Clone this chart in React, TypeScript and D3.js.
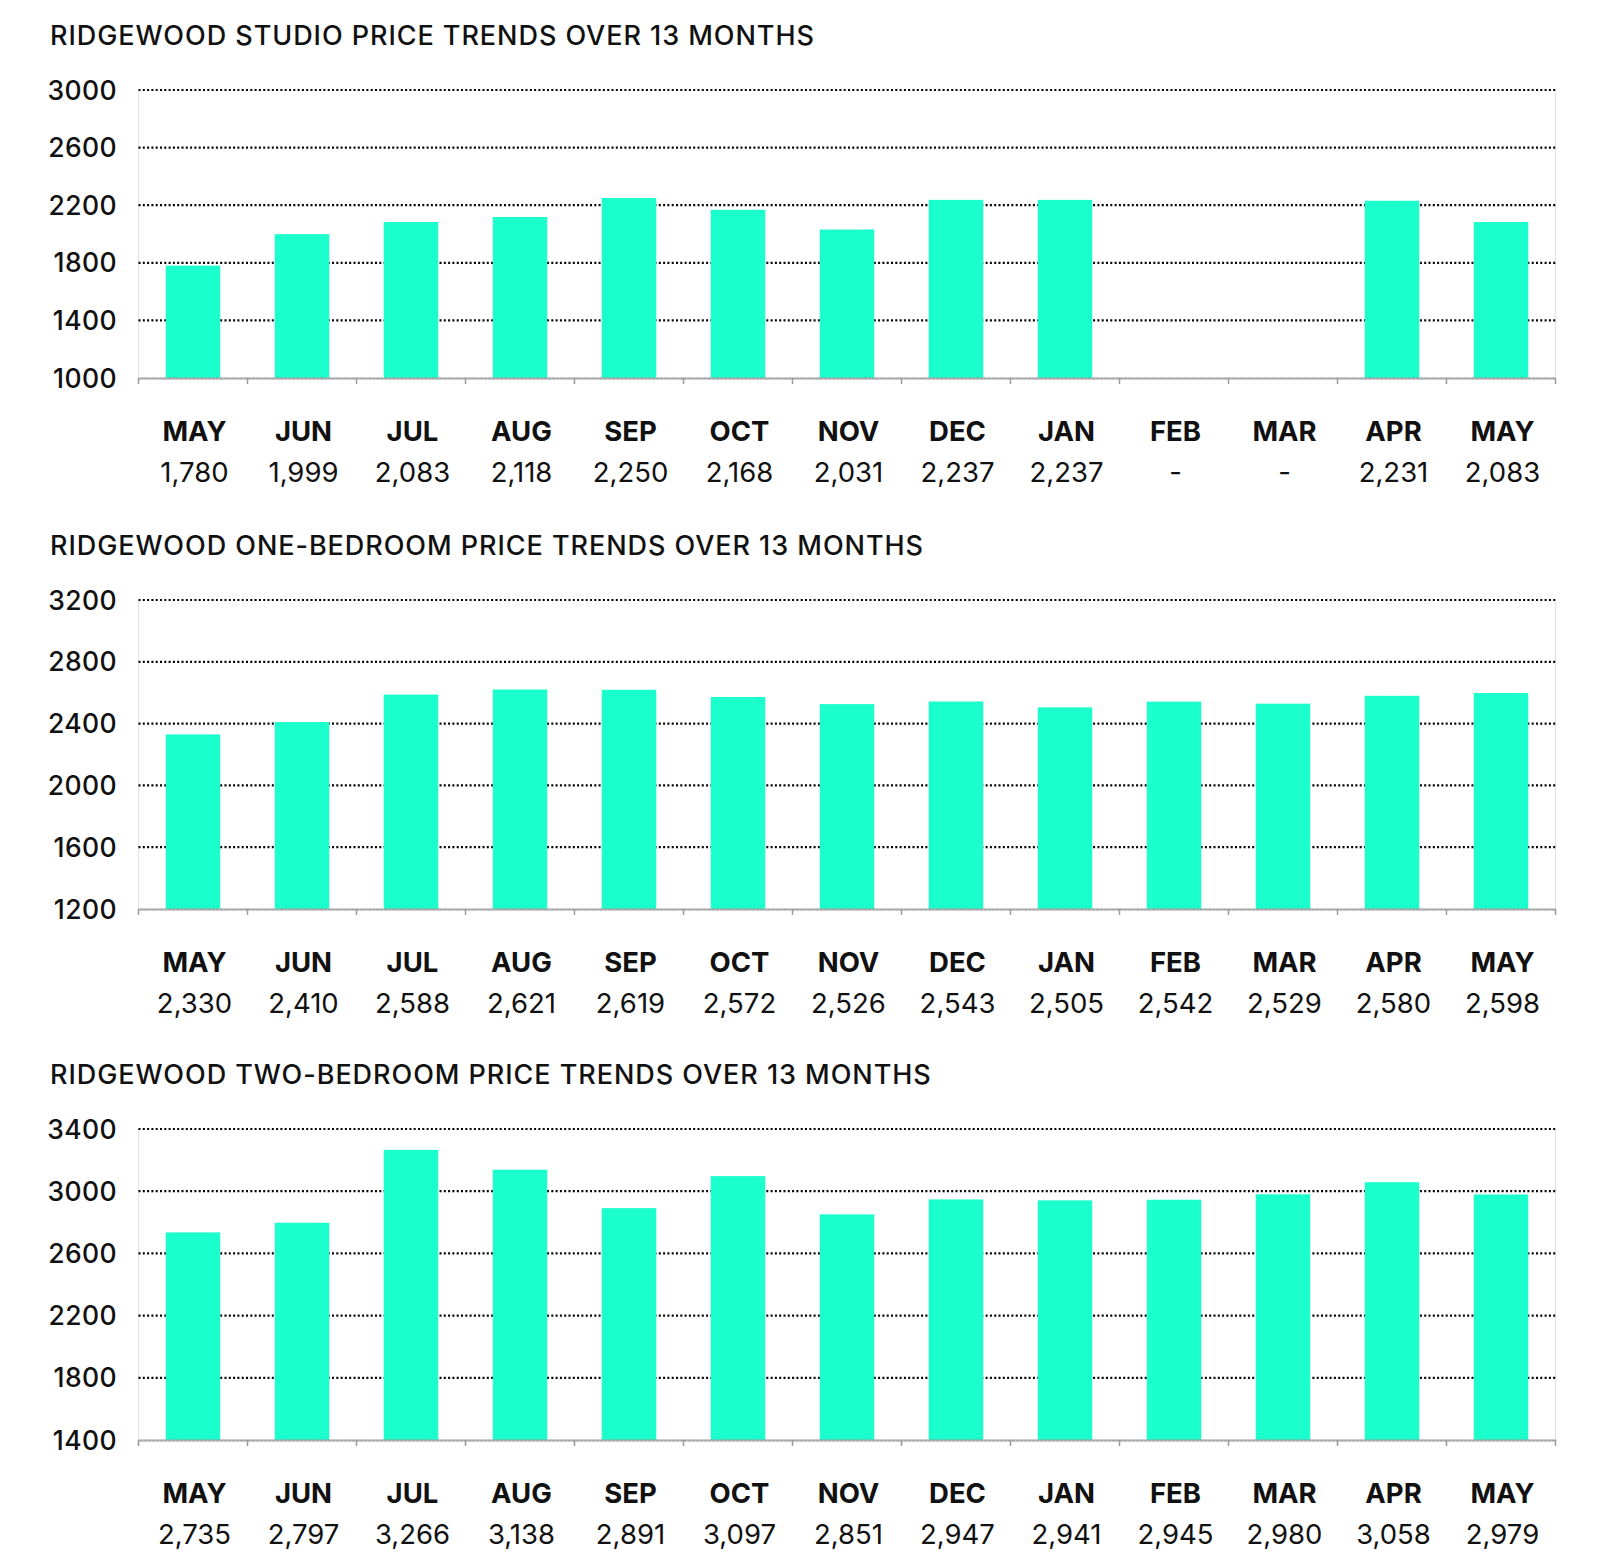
import React from "react";
import * as d3 from "d3";

const months = ["MAY", "JUN", "JUL", "AUG", "SEP", "OCT", "NOV", "DEC", "JAN", "FEB", "MAR", "APR", "MAY"];
const studioValues: (number | null)[] = [1780, 1999, 2083, 2118, 2250, 2168, 2031, 2237, 2237, null, null, 2231, 2083];
const oneBedValues: (number | null)[] = [2330, 2410, 2588, 2621, 2619, 2572, 2526, 2543, 2505, 2542, 2529, 2580, 2598];
const twoBedValues: (number | null)[] = [2735, 2797, 3266, 3138, 2891, 3097, 2851, 2947, 2941, 2945, 2980, 3058, 2979];

const studioTicks = [1000, 1400, 1800, 2200, 2600, 3000];
const oneBedTicks = [1200, 1600, 2000, 2400, 2800, 3200];
const twoBedTicks = [1400, 1800, 2200, 2600, 3000, 3400];

const titles = [
  "RIDGEWOOD STUDIO PRICE TRENDS OVER 13 MONTHS",
  "RIDGEWOOD ONE-BEDROOM PRICE TRENDS OVER 13 MONTHS",
  "RIDGEWOOD TWO-BEDROOM PRICE TRENDS OVER 13 MONTHS",
];

const BAR = "#1affcc";
const FONT = "Inter, 'Noto Sans', Arial, sans-serif";
const X0 = 138.5;
const X1 = 1555.5;

type PanelProps = {
  title: string;
  values: (number | null)[];
  ticks: number[];
  top: number; // title baseline
  plotTop: number;
  plotBottom: number;
};

const fmt = d3.format(",");

function Panel({ title, values, ticks, top, plotTop, plotBottom }: PanelProps) {
  const x = d3.scaleBand<number>().domain(d3.range(months.length)).range([X0, X1]).paddingInner(0.5).paddingOuter(0.25);
  const band = d3.scaleBand<number>().domain(d3.range(months.length)).range([X0, X1]);
  const y = d3.scaleLinear().domain([ticks[0], ticks[ticks.length - 1]]).range([plotBottom, plotTop]);
  const monthY = plotBottom + 63;
  const valueY = plotBottom + 104;
  return (
    <g>
      <text x={50} y={top} fontFamily={FONT} fontSize={27} fontWeight={500} letterSpacing={0.95} fill="#111">
        {title}
      </text>
      <line x1={X0} x2={X0} y1={y(ticks[ticks.length - 1])} y2={plotBottom} stroke="#e2e2e2" strokeWidth={1} />
      <line x1={X1} x2={X1} y1={y(ticks[ticks.length - 1])} y2={plotBottom} stroke="#e2e2e2" strokeWidth={1} />
      {ticks.slice(1).map((t) => (
        <line key={t} x1={X0} x2={X1} y1={y(t)} y2={y(t)} stroke="#000" strokeWidth={2.2} strokeDasharray="2,2.3" />
      ))}
      {ticks.map((t) => (
        <text key={"l" + t} x={117} y={y(t)} dy="0.36em" textAnchor="end" fontFamily={FONT} fontSize={26.5} fontWeight={500} letterSpacing={0.4} fill="#111">
          {t}
        </text>
      ))}
      {values.map((v, i) =>
        v == null ? null : (
          <rect key={i} x={x(i)} y={y(v)} width={x.bandwidth()} height={plotBottom - y(v)} fill={BAR} />
        )
      )}
      <line x1={X0} x2={X1} y1={plotBottom + 0.5} y2={plotBottom + 0.5} stroke="#9a9a9a" strokeWidth={2} />
      <line x1={X0} x2={X1} y1={plotBottom + 0.5} y2={plotBottom + 0.5} stroke="#bdbdbd" strokeWidth={1} strokeDasharray="2,2" />
      {d3.range(months.length + 1).map((i) => {
        const xx = i === months.length ? X1 : (band(i) as number);
        return <line key={"t" + i} x1={xx} x2={xx} y1={plotBottom} y2={plotBottom + 6} stroke="#9a9a9a" strokeWidth={1.5} />;
      })}
      {months.map((m, i) => {
        const cx = (band(i) as number) + band.bandwidth() / 2 + 1.5;
        return (
          <g key={"m" + i}>
            <text x={cx} y={monthY} textAnchor="middle" fontFamily={FONT} fontSize={27.5} fontWeight={700} fill="#111">
              {m}
            </text>
            <text x={cx} y={valueY} textAnchor="middle" fontFamily={FONT} fontSize={27.5} fontWeight={400} fill="#111">
              {values[i] == null ? "-" : fmt(values[i] as number)}
            </text>
          </g>
        );
      })}
    </g>
  );
}

export default function App() {
  return (
    <svg width={1600} height={1566} style={{ position: "absolute", left: 0, top: 0, background: "#fff" }}>
      <rect width={1600} height={1566} fill="#fff" />
      <Panel title={titles[0]} values={studioValues} ticks={studioTicks} top={45} plotTop={90} plotBottom={378} />
      <Panel title={titles[1]} values={oneBedValues} ticks={oneBedTicks} top={555} plotTop={600} plotBottom={909} />
      <Panel title={titles[2]} values={twoBedValues} ticks={twoBedTicks} top={1084} plotTop={1129} plotBottom={1440} />
    </svg>
  );
}
